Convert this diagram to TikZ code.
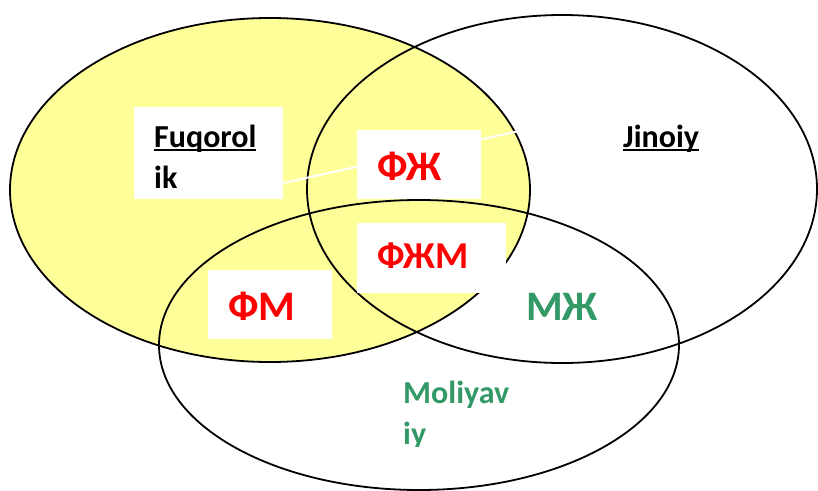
\documentclass[tikz,border=0pt]{standalone}
\usepackage{fontspec}
\setmainfont{Carlito}
\definecolor{venny}{RGB}{255,255,153}
\definecolor{vgreen}{RGB}{51,153,102}
\definecolor{vred}{RGB}{255,0,0}
\newcommand\undl[1]{\setbox0\hbox{#1}\rlap{\rule[-4pt]{\wd0}{2.2pt}}\box0}

\begin{document}
\begin{tikzpicture}[x=1pt,y=-1pt,
  wbox/.style={fill=white, inner sep=0pt},
  lbl/.style={anchor=base west, inner sep=0pt, font=\fontsize{32}{41}\selectfont\bfseries},
  big/.style={anchor=base west, inner sep=0pt, font=\fontsize{42}{48}\selectfont\bfseries}]
\useasboundingbox (0,0) rectangle (818,490);

\fill [venny] (270,190) ellipse [x radius=260, y radius=172];
\draw [line width=1.8pt] (270,190) ellipse [x radius=260, y radius=172];
\draw [line width=1.8pt] (562,189) ellipse [x radius=255, y radius=174];
\draw [line width=1.8pt] (419,345) ellipse [x radius=260, y radius=145];

\node (fbox) [wbox, minimum width=149pt, minimum height=92pt] at (208.5,153) {};
\coordinate (wend) at (519,131);
\draw [white, line width=2pt] ([yshift=-30pt]fbox.east) -- (wend);

\node (fjbox) [wbox, minimum width=124pt, minimum height=69pt] at (419,164.5) {};
\node (fjmbox) [wbox, minimum width=149pt, minimum height=70pt] at (431.5,258) {};
\node (fmbox) [wbox, minimum width=124pt, minimum height=69pt] at (270,304.5) {};

\node (fuq) [lbl] at (154,147) {\undl{Fuqorol}};
\node (fuqb) [lbl] at (154,188) {ik};
\node (jin) [lbl] at (623,147) {\undl{Jinoiy}};

\node (fj) [big, text=vred] at (377,180) {ФЖ};
\node (fjm) [big, text=vred, font=\fontsize{38}{44}\selectfont\bfseries] at (377,268) {ФЖМ};
\node (fm) [big, text=vred] at (228,320) {ФМ};
\node (mj) [big, text=vgreen] at (526,320) {МЖ};

\begin{scope}
\clip (380,360) rectangle (540,446);
\node (mol) [lbl, text=vgreen] at (403,403) {Moliyav};
\node (molb) [lbl, text=vgreen] at (403,444) {iy};
\end{scope}

\end{tikzpicture}
\end{document}
